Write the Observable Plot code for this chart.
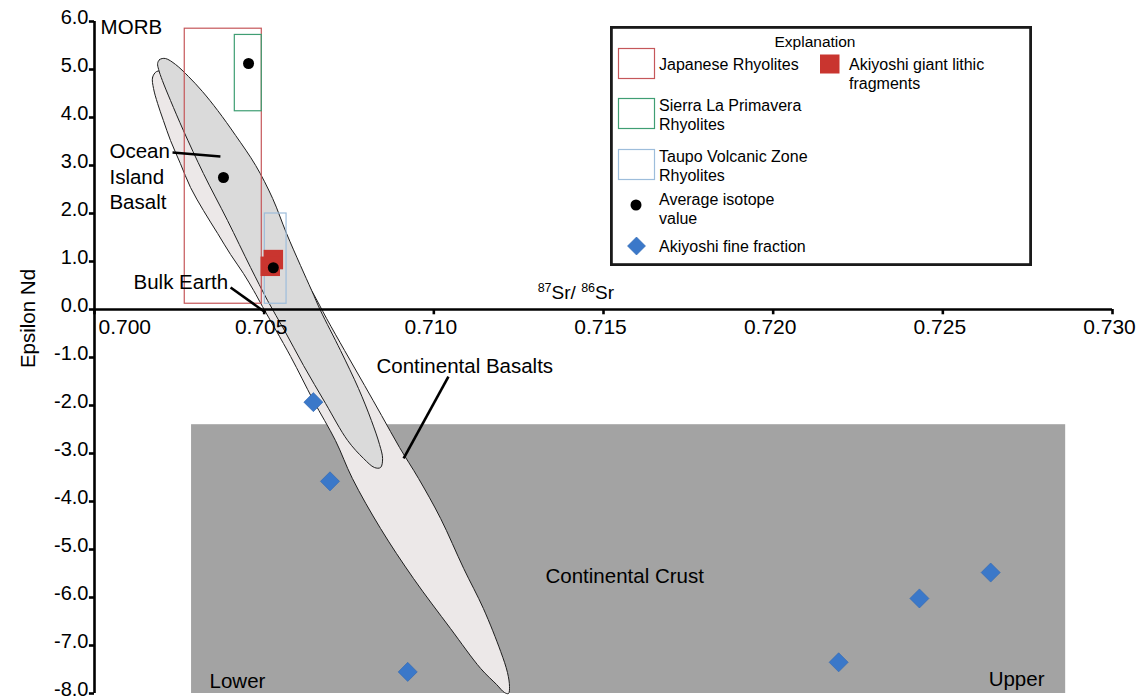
<!DOCTYPE html>
<html>
<head>
<meta charset="utf-8">
<script src="https://cdn.jsdelivr.net/npm/d3@7"></script>
<script src="https://cdn.jsdelivr.net/npm/@observablehq/plot@0.6"></script>
<style>
  body { margin: 0; background: #fff; }
  #chart { position: relative; width: 1143px; height: 698px; font-family: 'Liberation Sans', Arial, sans-serif; }
  #legend { position: absolute; left: 610px; top: 26px; }
</style>
</head>
<body>
<div id="chart"></div>
<script>
// Axis ticks
const srTicks = [0.700, 0.705, 0.710, 0.715, 0.720, 0.725, 0.730];
const ndTicks = [6, 5, 4, 3, 2, 1, 0, -1, -2, -3, -4, -5, -6, -7, -8];

// Continental crust field (87Sr/86Sr range, εNd range)
const crustField = [{x1: 0.70286, x2: 0.72862, y1: -8.0, y2: -2.40}];

// Rhyolite fields: Japanese, Sierra La Primavera, Taupo Volcanic Zone
const fieldNames = ["Japanese", "Sierra La Primavera", "Taupo"];
const fieldSr = [[0.70266, 0.70493], [0.704135, 0.70493], [0.70502, 0.70566]];
const fieldNd = [[0.12, 5.85], [4.13, 5.72], [0.12, 2.0]];

// Average isotope value of each rhyolite field
const avgSr = [0.70454, 0.70380, 0.70527];
const avgNd = [5.125, 2.75, 0.87];

// Akiyoshi giant lithic fragments
const lithicSr = [0.70527, 0.70518];
const lithicNd = [1.04, 0.90];

// Akiyoshi fine fraction
const fineSr = [0.70645, 0.70694, 0.70923, 0.72193, 0.72431, 0.72641];
const fineNd = [-1.93, -3.58, -7.55, -7.35, -6.02, -5.48];

// Continental basalt field outline [Sr, Nd]
const basaltOutline = [
  [0.70183, 4.958], [0.70171, 4.833], [0.70174, 4.604], [0.70186, 4.292], [0.70203, 3.938],
  [0.70224, 3.521], [0.70253, 3.042], [0.70283, 2.542], [0.70321, 2.063], [0.70363, 1.583],
  [0.70401, 1.146], [0.70439, 0.750], [0.70469, 0.396], [0.70495, 0.0625], [0.70578, -0.979],
  [0.70645, -1.896], [0.70710, -2.729], [0.70760, -3.521], [0.70843, -4.563], [0.70940, -5.604],
  [0.71049, -6.646], [0.71138, -7.479], [0.71185, -7.813], [0.71208, -7.979], [0.71220, -8.000],
  [0.71223, -7.854], [0.71217, -7.563], [0.71197, -7.125], [0.71146, -6.229], [0.71088, -5.396],
  [0.71020, -4.354], [0.70955, -3.521], [0.70899, -2.875], [0.70846, -2.208], [0.70796, -1.583],
  [0.70737, -0.854], [0.70684, -0.1875], [0.70643, 0.354], [0.70607, 0.771], [0.70548, 1.500],
  [0.70483, 2.292], [0.70419, 3.083], [0.70354, 3.854], [0.70295, 4.458], [0.70242, 4.792],
  [0.70203, 4.958]
];

// Ocean island basalt field outline [Sr, Nd]
const oibOutline = [
  [0.70186, 5.125], [0.70192, 5.208], [0.70209, 5.229], [0.70239, 5.104], [0.70277, 4.854],
  [0.70318, 4.542], [0.70363, 4.146], [0.70416, 3.625], [0.70475, 3.000], [0.70525, 2.313],
  [0.70566, 1.583], [0.70607, 0.917], [0.70640, 0.396], [0.70666, -0.021], [0.70725, -0.854],
  [0.70778, -1.646], [0.70816, -2.313], [0.70840, -2.813], [0.70849, -3.104], [0.70843, -3.292],
  [0.70825, -3.292], [0.70793, -3.104], [0.70746, -2.729], [0.70681, -1.958], [0.70616, -1.167],
  [0.70560, -0.438], [0.70510, 0.1875], [0.70460, 0.875], [0.70392, 1.854], [0.70321, 2.833],
  [0.70262, 3.729], [0.70224, 4.354], [0.70200, 4.771], [0.70189, 5.000]
];

// Annotation labels and their anchor points [Sr, Nd]
const labelTexts = ["MORB", "Ocean\nIsland\nBasalt", "Bulk Earth", "Continental Basalts", "Continental Crust", "Lower", "Upper"];
const labelSr = [0.70018, 0.70044, 0.70115, 0.70831, 0.71329, 0.70339, 0.72635];
const labelNd = [5.75, 2.104, 0.4375, -1.3125, -5.708, -7.875, -7.854];

// Leader lines [from Sr, from Nd, to Sr, to Nd]
const leaders = [
  [0.70230, 3.271, 0.70371, 3.1875],
  [0.70401, 0.458, 0.70504, -0.0625],
  [0.71043, -1.396, 0.70911, -3.104]
];

// Axis titles
const xTitle = "87Sr/ 86Sr";
const xTitlePos = [0.71306, 0.229];
const yTitle = "Epsilon Nd";
const yTitlePos = [0.69826, -0.1875];

// Legend entries
const legendTitle = "Explanation";
const legendFields = [["Japanese Rhyolites"], ["Sierra La Primavera", "Rhyolites"], ["Taupo Volcanic Zone", "Rhyolites"]];
const legendAvg = ["Average isotope", "value"];
const legendFine = ["Akiyoshi fine fraction"];
const legendLithic = ["Akiyoshi giant lithic", "fragments"];

// ---- styles ----
const fieldColors = ["#c5575a", "#3f9e73", "#9dbddb"];
const lithicColor = "#c9352f";
const fineColor = "#3b78c9";
const font = "'Liberation Sans', Arial, sans-serif";

const fields = fieldNames.map((name, i) => ({name, x1: fieldSr[i][0], x2: fieldSr[i][1], y1: fieldNd[i][0], y2: fieldNd[i][1]}));
const avg = avgSr.map((sr, i) => ({sr, nd: avgNd[i]}));
const lithic = lithicSr.map((sr, i) => ({sr, nd: lithicNd[i]}));
const fine = fineSr.map((sr, i) => ({sr, nd: fineNd[i]}));
const labels = labelTexts.map((text, i) => ({text, sr: labelSr[i], nd: labelNd[i]}));

const plot = Plot.plot({
  width: 1143,
  height: 698,
  marginLeft: 94,
  marginRight: 31,
  marginTop: 21,
  marginBottom: 5,
  x: {domain: [0.700, 0.730], axis: null},
  y: {domain: [-8, 6], axis: null},
  style: {fontFamily: font, background: "white", overflow: "visible", color: "black"},
  marks: [
    Plot.rect(crustField, {x1: "x1", x2: "x2", y1: "y1", y2: "y2", fill: "#a3a3a3"}),
    Plot.line(basaltOutline, {x: d => d[0], y: d => d[1], curve: "catmull-rom-closed", fill: "#ece8e8", stroke: "#1e1e1e", strokeWidth: 1}),
    Plot.line(oibOutline, {x: d => d[0], y: d => d[1], curve: "catmull-rom-closed", fill: "#dadada", stroke: "#1e1e1e", strokeWidth: 1}),
    ...fields.map((f, i) => Plot.rect([f], {x1: "x1", x2: "x2", y1: "y1", y2: "y2", fill: "none", stroke: fieldColors[i], strokeWidth: 1.2})),
    Plot.dot(lithic, {x: "sr", y: "nd", symbol: "square", r: 11, fill: lithicColor}),
    Plot.dot(avg, {x: "sr", y: "nd", r: 5.5, fill: "black"}),
    Plot.dot(fine, {x: "sr", y: "nd", symbol: "diamond2", r: 8.6, fill: fineColor, stroke: "#2f66b0", strokeWidth: 0.6}),
    // leader lines
    Plot.link(leaders, {x1: d => d[0], y1: d => d[1], x2: d => d[2], y2: d => d[3], stroke: "black", strokeWidth: 2.6}),
    // annotations
    Plot.text(labels, {x: "sr", y: "nd", text: "text", textAnchor: "start", lineAnchor: "bottom", lineHeight: 1.22, fontSize: 20.5, fill: "black"}),
    // axes
    Plot.ruleY([0], {x1: 0.700, x2: 0.730, stroke: "black", strokeWidth: 2.6}),
    Plot.ruleX([0.700], {y1: -8, y2: 6, stroke: "black", strokeWidth: 2.6}),
    Plot.ruleX(srTicks, {x: d => d, y1: 0, y2: -0.11, stroke: "black", strokeWidth: 2.6}),
    Plot.ruleY(ndTicks, {y: d => d, x1: 0.69985, x2: 0.700, stroke: "black", strokeWidth: 2.6}),
    Plot.text(srTicks.slice(0, 1), {x: d => d, y: 0, text: d => d.toFixed(3), textAnchor: "start", dx: 4, dy: 18, fontSize: 21, fill: "black"}),
    Plot.text(srTicks.slice(1), {x: d => d, y: 0, text: d => d.toFixed(3), dx: -3, dy: 18, fontSize: 21, fill: "black"}),
    Plot.text(ndTicks, {x: 0.700, y: d => d, text: d => d.toFixed(1), textAnchor: "end", lineAnchor: "bottom", dx: -6, dy: 2, fontSize: 20, fill: "black"}),
    Plot.text([xTitle], {x: xTitlePos[0], y: xTitlePos[1], text: d => d, textAnchor: "start", lineAnchor: "bottom", fontSize: 19, fill: "black"}),
    Plot.text([yTitle], {x: yTitlePos[0], y: yTitlePos[1], text: d => d, rotate: -90, lineAnchor: "bottom", fontSize: 20.5, fill: "black"})
  ]
});

const chart = document.getElementById("chart");
chart.appendChild(plot);

// Superscript isotope masses in the x-axis title
plot.querySelectorAll("text").forEach(t => {
  if (t.textContent === xTitle) {
    t.textContent = "";
    const parts = [["87", true], ["Sr/ ", false], ["86", true], ["Sr", false]];
    parts.forEach(([s, sup]) => {
      const ts = document.createElementNS("http://www.w3.org/2000/svg", "tspan");
      ts.textContent = s;
      if (sup) { ts.setAttribute("font-size", "12.5"); ts.setAttribute("dy", "-7"); }
      else { ts.setAttribute("dy", "7"); }
      t.appendChild(ts);
    });
    t.firstChild.setAttribute("dy", "-7");
  }
});

// Legend panel
const W = 422, H = 240;
const lg = d3.create("svg").attr("id", "legend").attr("width", W).attr("height", H)
  .style("font-family", font).style("font-size", "16px");
lg.append("rect").attr("x", 1.4).attr("y", 1.4).attr("width", W - 2.8).attr("height", H - 2.8)
  .attr("fill", "white").attr("stroke", "#1a1a1a").attr("stroke-width", 2.8);
lg.append("text").attr("x", 205).attr("y", 21).attr("text-anchor", "middle").attr("font-size", 15.5).text(legendTitle);

const rowTop = [22.5, 72.5, 123.5];
const rowBase = [43.5, 84.5, 135.5];
legendFields.forEach((lines, i) => {
  lg.append("rect").attr("x", 8.5).attr("y", rowTop[i]).attr("width", 36).attr("height", 30)
    .attr("fill", "white").attr("stroke", fieldColors[i]).attr("stroke-width", 1.2);
  lines.forEach((s, j) => lg.append("text").attr("x", 49).attr("y", rowBase[i] + j * 19).text(s));
});
lg.append("circle").attr("cx", 26).attr("cy", 179).attr("r", 5.5).attr("fill", "black");
legendAvg.forEach((s, j) => lg.append("text").attr("x", 49).attr("y", 179 + j * 19).text(s));
lg.append("path").attr("d", "M26.5,211L35.5,220L26.5,229L17.5,220Z").attr("fill", fineColor).attr("stroke", "#2f66b0").attr("stroke-width", 0.6);
legendFine.forEach((s, j) => lg.append("text").attr("x", 49).attr("y", 225.5 + j * 19).text(s));
lg.append("rect").attr("x", 210).attr("y", 28.5).attr("width", 19.5).attr("height", 19).attr("fill", lithicColor);
legendLithic.forEach((s, j) => lg.append("text").attr("x", 239).attr("y", 43.5 + j * 19).text(s));

chart.appendChild(lg.node());
</script>
</body>
</html>
